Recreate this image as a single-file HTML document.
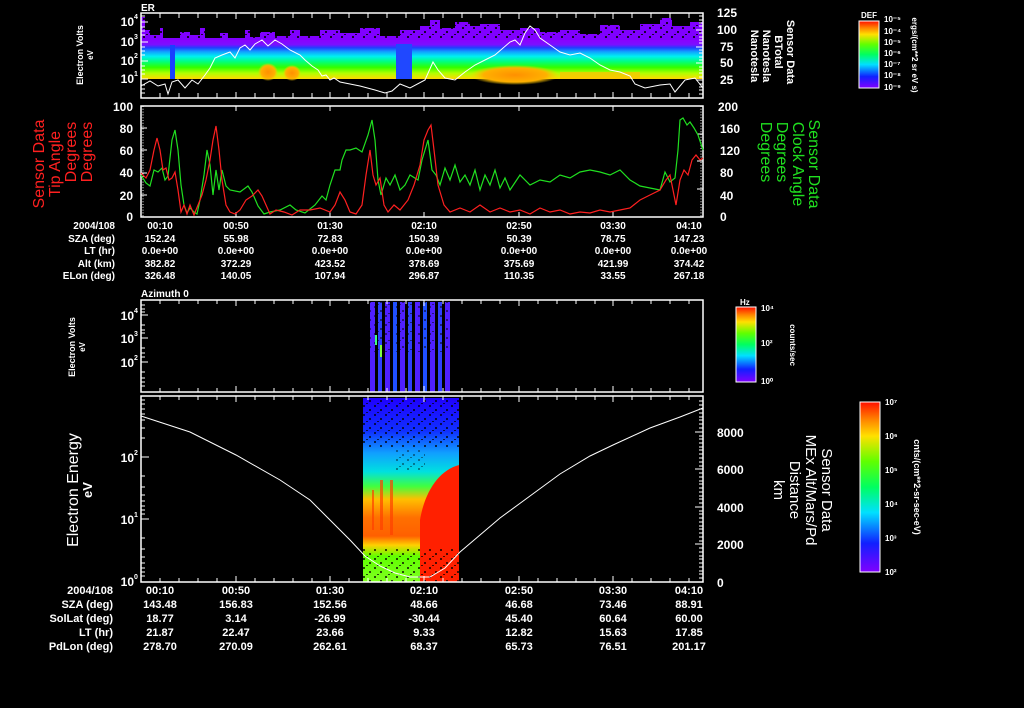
<!DOCTYPE html>
<html><head><meta charset="utf-8"><style>
html,body{margin:0;padding:0;background:#000;}
svg{display:block}
text{font-family:"Liberation Sans",sans-serif;fill:#fff;font-weight:bold}
.n text,text.n{font-weight:normal}
</style></head><body>
<svg width="1024" height="708" viewBox="0 0 1024 708" xmlns="http://www.w3.org/2000/svg">
<defs>
<linearGradient id="rb" x1="0" y1="1" x2="0" y2="0">
<stop offset="0" stop-color="#8000ff"/><stop offset="0.17" stop-color="#1020ff"/><stop offset="0.35" stop-color="#00e0ff"/><stop offset="0.5" stop-color="#00ff60"/><stop offset="0.65" stop-color="#60ff00"/><stop offset="0.8" stop-color="#ffe000"/><stop offset="0.9" stop-color="#ff8000"/><stop offset="1" stop-color="#ff1000"/>
</linearGradient>
<linearGradient id="s1" x1="0" y1="0" x2="0" y2="1">
<stop offset="0" stop-color="#8a00ff"/><stop offset="0.12" stop-color="#7a10ff"/><stop offset="0.2" stop-color="#2040ff"/><stop offset="0.3" stop-color="#10a0ff"/><stop offset="0.42" stop-color="#00f0f0"/><stop offset="0.55" stop-color="#00ff80"/><stop offset="0.7" stop-color="#30ff00"/><stop offset="0.85" stop-color="#b0ff00"/><stop offset="1" stop-color="#ffd800"/>
</linearGradient>
<linearGradient id="s4" x1="0" y1="0" x2="0" y2="1">
<stop offset="0" stop-color="#2000ff"/><stop offset="0.18" stop-color="#1030ff"/><stop offset="0.3" stop-color="#10a0ff"/><stop offset="0.4" stop-color="#00e0e0"/><stop offset="0.48" stop-color="#40ff40"/><stop offset="0.55" stop-color="#ffc000"/><stop offset="0.65" stop-color="#ff7000"/><stop offset="0.75" stop-color="#ff6000"/><stop offset="0.8" stop-color="#ffd000"/><stop offset="0.86" stop-color="#60ff00"/><stop offset="1" stop-color="#80ff20"/>
</linearGradient>
<radialGradient id="og"><stop offset="0" stop-color="#ff9000"/><stop offset="0.7" stop-color="#ffb000"/><stop offset="1" stop-color="#ffd000" stop-opacity="0"/></radialGradient>
<pattern id="spk" width="11" height="9" patternUnits="userSpaceOnUse"><rect x="0" y="0" width="2" height="2" fill="#000"/><rect x="6" y="4" width="2" height="2" fill="#000"/><rect x="3" y="7" width="2" height="1" fill="#000"/></pattern>
</defs>

<!-- ===== Panel 1 ===== -->
<text x="141" y="11" font-size="10">ER</text>
<rect x="141" y="40" width="562" height="39" fill="url(#s1)"/>
<path d="M141,40 V17 H145 V30 H150 V35 H160 V28 H163 V38 H180 V32 H190 V35 H200 V28 H205 V38 H220 V33 H228 V38 H245 V30 H250 V37 H260 V32 H275 V36 H290 V30 H300 V36 H320 V30 H340 V33 H360 V28 H380 V36 H400 V30 H420 V26 H430 V20 H440 V28 H455 V22 H470 V26 H480 V24 H500 V30 H520 V28 H540 V32 H560 V30 H580 V34 H600 V25 H620 V30 H640 V24 H660 V18 H672 V26 H690 V22 H703 V40 Z" fill="#8000ff"/>
<rect x="141" y="17" width="562" height="22" fill="url(#spk)" opacity="0.8"/>
<rect x="170" y="45" width="5" height="34" fill="#1840ff"/>
<rect x="396" y="44" width="16" height="35" fill="#2048ff"/>
<ellipse cx="268" cy="72" rx="10" ry="9" fill="url(#og)"/>
<ellipse cx="292" cy="73" rx="9" ry="8" fill="url(#og)"/>
<ellipse cx="515" cy="75" rx="45" ry="10" fill="url(#og)"/>
<rect x="560" y="72" width="80" height="7" fill="#ffc000" opacity="0.7"/>
<polyline fill="none" stroke="#fff" stroke-width="1" points="141,86 150,81 158,86 165,84 168,94 172,82 178,80 185,88 192,80 198,84 205,75 210,68 215,58 222,55 230,52 235,58 240,48 245,45 250,50 255,44 262,40 268,46 275,40 282,44 290,50 300,55 305,60 312,66 318,70 322,76 326,75 330,80 334,78 340,82 350,84 360,86 375,90 385,93 392,91 400,84 410,88 425,80 433,62 438,70 445,78 455,80 465,72 475,65 485,60 495,55 510,42 515,40 520,45 525,33 530,26 535,30 540,38 550,45 560,52 570,55 580,53 590,58 600,65 610,70 620,72 630,76 635,84 645,88 660,85 670,84 675,92 685,80 695,78 703,88"/>
<rect x="141" y="13" width="562" height="85" fill="none" stroke="#fff" stroke-width="1.5"/>
<g stroke="#fff" stroke-width="1">
<path d="M160,13v5M179,13v5M198,13v5M217,13v5M236,13v6M255,13v5M274,13v5M293,13v5M312,13v5M330,13v6M349,13v5M368,13v5M387,13v5M406,13v5M424,13v6M443,13v5M462,13v5M481,13v5M500,13v5M519,13v6M538,13v5M557,13v5M576,13v5M595,13v5M613,13v6M632,13v5M651,13v5M670,13v5M689,13v5"/>
<path d="M160,98v-5M179,98v-5M198,98v-5M217,98v-5M236,98v-6M255,98v-5M274,98v-5M293,98v-5M312,98v-5M330,98v-6M349,98v-5M368,98v-5M387,98v-5M406,98v-5M424,98v-6M443,98v-5M462,98v-5M481,98v-5M500,98v-5M519,98v-6M538,98v-5M557,98v-5M576,98v-5M595,98v-5M613,98v-6M632,98v-5M651,98v-5M670,98v-5M689,98v-5"/>
<path d="M141,22h7M141,42h7M141,61h7M141,79h7M141,16h4M141,27h4M141,31h4M141,35h4M141,47h4M141,51h4M141,55h4M141,66h4M141,70h4M141,74h4M141,85h4M141,89h4M141,93h4"/>
<path d="M703,30h-7M703,47h-7M703,63h-7M703,80h-7M703,16h-4M703,20h-4M703,23h-4M703,26h-4M703,33h-4M703,37h-4M703,40h-4M703,43h-4M703,50h-4M703,53h-4M703,57h-4M703,60h-4M703,67h-4M703,70h-4M703,73h-4M703,77h-4M703,84h-4M703,87h-4M703,90h-4M703,94h-4"/>
</g>
<g font-size="12" text-anchor="end"><text x="134" y="26">10</text><text x="134" y="46">10</text><text x="134" y="65">10</text><text x="134" y="83">10</text></g>
<g font-size="7"><text x="134" y="19">4</text><text x="134" y="39">3</text><text x="134" y="58">2</text><text x="134" y="76">1</text></g>
<g font-size="12"><text x="717" y="17">125</text><text x="717" y="34">100</text><text x="720" y="51">75</text><text x="720" y="67">50</text><text x="720" y="84">25</text></g>
<text transform="translate(83,55) rotate(-90)" font-size="9" text-anchor="middle">Electron Volts</text>
<text transform="translate(93,55) rotate(-90)" font-size="8" text-anchor="middle">eV</text>
<g font-size="11" text-anchor="middle">
<text transform="translate(787,52) rotate(90)">Sensor Data</text>
<text transform="translate(775,52) rotate(90)">BTotal</text>
<text transform="translate(763,56) rotate(90)">Nanotesla</text>
<text transform="translate(751,56) rotate(90)">Nanotesla</text>
</g>
<text x="861" y="18" font-size="8">DEF</text>
<rect x="859" y="21" width="20" height="67" fill="url(#rb)" stroke="#fff" stroke-width="1"/>
<g font-size="8"><text x="884" y="22">10⁻⁵</text><text x="884" y="34">10⁻⁴</text><text x="884" y="45">10⁻⁵</text><text x="884" y="56">10⁻⁶</text><text x="884" y="67">10⁻⁷</text><text x="884" y="78">10⁻⁸</text><text x="884" y="90">10⁻⁹</text></g>
<text transform="translate(912,55) rotate(90)" font-size="8" text-anchor="middle">ergs/(cm**2 sr eV s)</text>

<!-- ===== Panel 2 ===== -->
<rect x="141" y="106" width="562" height="111" fill="none" stroke="#fff" stroke-width="1.5"/>
<g stroke="#fff" stroke-width="1">
<path d="M141,106h6M141,128h6M141,150h6M141,173h6M141,195h6M703,106h-6M703,134h-6M703,161h-6M703,189h-6M703,217h-6"/>
<path d="M236,106v5M330,106v5M424,106v5M519,106v5M613,106v5M236,217v-5M330,217v-5M424,217v-5M519,217v-5M613,217v-5"/>
<path stroke-dasharray="1,1.8" d="M143,106v111M701,106v111"/>
</g>
<g font-size="12" text-anchor="end"><text x="133" y="111">100</text><text x="133" y="133">80</text><text x="133" y="155">60</text><text x="133" y="177">40</text><text x="133" y="200">20</text><text x="133" y="221">0</text></g>
<g font-size="12"><text x="718" y="111">200</text><text x="720" y="133">160</text><text x="720" y="155">120</text><text x="720" y="177">80</text><text x="720" y="200">40</text><text x="720" y="221">0</text></g>
<g class="n" font-size="16" text-anchor="middle">
<text transform="translate(44,164) rotate(-90)" style="fill:#ff2020">Sensor Data</text>
<text transform="translate(60,164) rotate(-90)" style="fill:#ff2020">Tip Angle</text>
<text transform="translate(76,152) rotate(-90)" style="fill:#ff2020">Degrees</text>
<text transform="translate(92,152) rotate(-90)" style="fill:#ff2020">Degrees</text>
</g>
<g class="n" font-size="16" text-anchor="middle">
<text transform="translate(809,164) rotate(90)" style="fill:#20e020">Sensor Data</text>
<text transform="translate(793,164) rotate(90)" style="fill:#20e020">Clock Angle</text>
<text transform="translate(777,152) rotate(90)" style="fill:#20e020">Degrees</text>
<text transform="translate(761,152) rotate(90)" style="fill:#20e020">Degrees</text>
</g>
<polyline fill="none" stroke="#20e020" stroke-width="1.2" points="141,175 146,183 150,186 154,170 158,172 162,168 165,180 168,176 172,140 175,130 178,150 181,185 184,205 187,213 190,208 194,212 197,214 200,200 204,175 207,150 210,165 213,195 216,170 219,190 222,170 226,186 230,190 240,192 248,186 252,192 258,206 264,214 270,212 280,210 290,205 296,210 305,213 315,205 322,196 326,200 330,185 335,170 340,170 342,160 346,150 350,150 356,148 362,152 368,135 372,120 375,140 378,180 381,195 386,178 390,185 395,175 400,190 405,185 410,175 418,180 422,160 428,140 432,170 436,175 440,185 445,168 450,180 455,165 460,182 465,175 470,185 475,170 480,190 485,175 490,185 495,170 500,188 505,178 510,190 520,175 530,185 540,180 550,182 560,175 570,178 580,172 590,170 600,172 610,175 620,170 630,180 640,186 650,188 660,190 665,172 670,182 675,178 678,150 680,120 683,118 687,125 690,122 694,128 698,135 703,150"/>
<polyline fill="none" stroke="#ff2020" stroke-width="1.2" points="141,173 146,178 150,170 154,150 157,138 160,150 163,170 166,168 169,180 172,178 175,172 178,190 181,212 184,205 187,214 190,205 194,215 198,205 202,195 206,180 210,160 213,140 216,126 219,150 222,180 226,205 230,212 235,214 240,210 246,200 252,196 258,190 262,196 266,205 270,214 276,210 284,212 292,215 300,210 310,210 320,208 330,212 335,205 340,192 345,200 350,212 356,214 362,205 366,175 370,150 373,175 376,185 380,178 384,205 388,212 394,205 400,210 408,200 414,185 420,165 424,140 428,130 431,125 434,150 438,185 444,205 450,212 460,208 470,212 480,205 490,212 500,208 510,212 520,210 530,214 540,208 550,212 560,210 570,214 580,212 590,213 600,210 610,212 620,210 630,208 640,200 650,195 660,190 666,180 670,175 674,195 676,205 680,180 684,170 688,175 692,160 696,155 700,160 703,158"/>
<g font-size="10" text-anchor="middle">
<text x="115" y="229" text-anchor="end">2004/108</text><text x="160" y="229">00:10</text><text x="236" y="229">00:50</text><text x="330" y="229">01:30</text><text x="424" y="229">02:10</text><text x="519" y="229">02:50</text><text x="613" y="229">03:30</text><text x="689" y="229">04:10</text>
<text x="115" y="242" text-anchor="end">SZA (deg)</text><text x="160" y="242">152.24</text><text x="236" y="242">55.98</text><text x="330" y="242">72.83</text><text x="424" y="242">150.39</text><text x="519" y="242">50.39</text><text x="613" y="242">78.75</text><text x="689" y="242">147.23</text>
<text x="115" y="254" text-anchor="end">LT (hr)</text><text x="160" y="254">0.0e+00</text><text x="236" y="254">0.0e+00</text><text x="330" y="254">0.0e+00</text><text x="424" y="254">0.0e+00</text><text x="519" y="254">0.0e+00</text><text x="613" y="254">0.0e+00</text><text x="689" y="254">0.0e+00</text>
<text x="115" y="267" text-anchor="end">Alt (km)</text><text x="160" y="267">382.82</text><text x="236" y="267">372.29</text><text x="330" y="267">423.52</text><text x="424" y="267">378.69</text><text x="519" y="267">375.69</text><text x="613" y="267">421.99</text><text x="689" y="267">374.42</text>
<text x="115" y="279" text-anchor="end">ELon (deg)</text><text x="160" y="279">326.48</text><text x="236" y="279">140.05</text><text x="330" y="279">107.94</text><text x="424" y="279">296.87</text><text x="519" y="279">110.35</text><text x="613" y="279">33.55</text><text x="689" y="279">267.18</text>
</g>

<!-- ===== Panel 3 ===== -->
<text x="141" y="297" font-size="10">Azimuth 0</text>
<g fill="#5020ff">
<rect x="370" y="302" width="5" height="90"/><rect x="378" y="302" width="4" height="90" fill="#3040ff"/><rect x="385" y="302" width="5" height="90"/><rect x="393" y="302" width="4" height="90" fill="#2050ff"/><rect x="400" y="302" width="5" height="90"/><rect x="408" y="302" width="4" height="90" fill="#3040ff"/><rect x="415" y="302" width="5" height="90"/><rect x="423" y="302" width="4" height="90" fill="#2050ff"/><rect x="430" y="302" width="5" height="90"/><rect x="438" y="302" width="4" height="90" fill="#3040ff"/><rect x="445" y="302" width="5" height="90"/>
</g>
<rect x="370" y="302" width="80" height="50" fill="url(#spk)" opacity="0.5"/>
<rect x="375" y="335" width="2" height="10" fill="#40ff80"/>
<rect x="380" y="345" width="2" height="12" fill="#80ff40"/>
<rect x="141" y="300" width="562" height="92" fill="none" stroke="#fff" stroke-width="1.5"/>
<g stroke="#fff" stroke-width="1">
<path d="M160,300v4M179,300v4M198,300v4M217,300v4M236,300v6M255,300v4M274,300v4M293,300v4M312,300v4M330,300v6M349,300v4M368,300v4M387,300v4M406,300v4M424,300v6M443,300v4M462,300v4M481,300v4M500,300v4M519,300v6M538,300v4M557,300v4M576,300v4M595,300v4M613,300v6M632,300v4M651,300v4M670,300v4M689,300v4"/>
<path d="M160,392v-4M179,392v-4M198,392v-4M217,392v-4M236,392v-6M255,392v-4M274,392v-4M293,392v-4M312,392v-4M330,392v-6M349,392v-4M368,392v-4M387,392v-4M406,392v-4M424,392v-6M443,392v-4M462,392v-4M481,392v-4M500,392v-4M519,392v-6M538,392v-4M557,392v-4M576,392v-4M595,392v-4M613,392v-6M632,392v-4M651,392v-4M670,392v-4M689,392v-4"/>
<path d="M141,315h7M141,338h7M141,362h7M141,305h4M141,309h4M141,312h4M141,325h4M141,330h4M141,333h4M141,348h4M141,353h4M141,357h4M141,372h4M141,378h4M141,382h4M141,386h4"/>
</g>
<g font-size="12" text-anchor="end"><text x="134" y="320">10</text><text x="134" y="343">10</text><text x="134" y="367">10</text></g>
<g font-size="7"><text x="134" y="313">4</text><text x="134" y="336">3</text><text x="134" y="360">2</text></g>
<text transform="translate(75,347) rotate(-90)" font-size="9" text-anchor="middle">Electron Volts</text>
<text transform="translate(85,347) rotate(-90)" font-size="8" text-anchor="middle">eV</text>
<text x="740" y="305" font-size="8">Hz</text>
<rect x="736" y="307" width="20" height="75" fill="url(#rb)" stroke="#fff" stroke-width="1"/>
<g font-size="8"><text x="761" y="311">10⁴</text><text x="761" y="346">10²</text><text x="761" y="384">10⁰</text></g>
<text transform="translate(790,345) rotate(90)" font-size="8" text-anchor="middle">counts/sec</text>

<!-- ===== Panel 4 ===== -->
<rect x="363" y="398" width="96" height="184" fill="url(#s4)"/>
<path d="M420,582 V520 C425,490 440,470 459,465 V582 Z" fill="#ff2000"/>
<path d="M380,480 h3 v50 h-3z M390,480 h3 v55 h-3z M372,490 h2 v40 h-2z" fill="#ff4000" opacity="0.7"/>
<rect x="363" y="398" width="96" height="50" fill="url(#spk)" opacity="0.7"/>
<rect x="363" y="548" width="96" height="34" fill="url(#spk)" opacity="0.7"/>
<rect x="395" y="450" width="30" height="20" fill="url(#spk)" opacity="0.4"/>
<polyline fill="none" stroke="#fff" stroke-width="1" points="141,416 190,432 236,455 280,480 310,500 330,520 350,540 365,556 380,566 395,573 410,577 430,577 445,568 460,552 480,535 500,518 530,496 560,474 590,456 613,445 650,428 680,417 703,408"/>
<rect x="141" y="396" width="562" height="186" fill="none" stroke="#fff" stroke-width="1.5"/>
<g stroke="#fff" stroke-width="1">
<path d="M160,396v4M179,396v4M198,396v4M217,396v4M236,396v6M255,396v4M274,396v4M293,396v4M312,396v4M330,396v6M349,396v4M368,396v4M387,396v4M406,396v4M424,396v6M443,396v4M462,396v4M481,396v4M500,396v4M519,396v6M538,396v4M557,396v4M576,396v4M595,396v4M613,396v6M632,396v4M651,396v4M670,396v4M689,396v4"/>
<path d="M160,582v-4M179,582v-4M198,582v-4M217,582v-4M236,582v-6M255,582v-4M274,582v-4M293,582v-4M312,582v-4M330,582v-6M349,582v-4M368,582v-4M387,582v-4M406,582v-4M424,582v-6M443,582v-4M462,582v-4M481,582v-4M500,582v-4M519,582v-6M538,582v-4M557,582v-4M576,582v-4M595,582v-4M613,582v-6M632,582v-4M651,582v-4M670,582v-4M689,582v-4"/>
<path d="M141,457h8M141,519h8M141,400h4M141,404h4M141,409h4M141,414h4M141,420h4M141,428h4M141,438h4M141,476h4M141,487h4M141,495h4M141,501h4M141,506h4M141,510h4M141,514h4M141,538h4M141,549h4M141,557h4M141,563h4M141,568h4M141,572h4M141,576h4"/>
<path d="M703,432h-8M703,469h-8M703,507h-8M703,544h-8M703,401h-4M703,405h-4M703,409h-4M703,413h-4M703,417h-4M703,420h-4M703,424h-4M703,428h-4M703,436h-4M703,439h-4M703,443h-4M703,447h-4M703,450h-4M703,454h-4M703,458h-4M703,462h-4M703,466h-4M703,473h-4M703,477h-4M703,481h-4M703,484h-4M703,488h-4M703,492h-4M703,496h-4M703,499h-4M703,503h-4M703,511h-4M703,514h-4M703,518h-4M703,522h-4M703,526h-4M703,529h-4M703,533h-4M703,537h-4M703,541h-4M703,548h-4M703,552h-4M703,556h-4M703,559h-4M703,563h-4M703,567h-4M703,571h-4M703,574h-4M703,578h-4"/>
</g>
<g font-size="12" text-anchor="end"><text x="134" y="462">10</text><text x="134" y="524">10</text><text x="134" y="586">10</text></g>
<g font-size="7"><text x="134" y="455">2</text><text x="134" y="517">1</text><text x="134" y="579">0</text></g>
<g font-size="12"><text x="717" y="437">8000</text><text x="717" y="474">6000</text><text x="717" y="512">4000</text><text x="717" y="549">2000</text><text x="717" y="587">0</text></g>
<text class="n" transform="translate(78,490) rotate(-90)" font-size="16" text-anchor="middle">Electron Energy</text>
<text transform="translate(92,490) rotate(-90)" font-size="13" text-anchor="middle">eV</text>
<g class="n" font-size="15" text-anchor="middle">
<text transform="translate(822,490) rotate(90)">Sensor Data</text>
<text transform="translate(806,490) rotate(90)">MEx Alt/Mars/Pd</text>
<text transform="translate(790,490) rotate(90)">Distance</text>
<text transform="translate(774,490) rotate(90)">km</text>
</g>
<rect x="860" y="402" width="20" height="170" fill="url(#rb)" stroke="#fff" stroke-width="1"/>
<g font-size="8"><text x="885" y="405">10⁷</text><text x="885" y="439">10⁶</text><text x="885" y="473">10⁵</text><text x="885" y="507">10⁴</text><text x="885" y="541">10³</text><text x="885" y="575">10²</text></g>
<text transform="translate(914,487) rotate(90)" font-size="9" text-anchor="middle">cnts/(cm**2-sr-sec-eV)</text>
<g font-size="11" text-anchor="middle">
<text x="113" y="594" text-anchor="end">2004/108</text><text x="160" y="594">00:10</text><text x="236" y="594">00:50</text><text x="330" y="594">01:30</text><text x="424" y="594">02:10</text><text x="519" y="594">02:50</text><text x="613" y="594">03:30</text><text x="689" y="594">04:10</text>
<text x="113" y="608" text-anchor="end">SZA (deg)</text><text x="160" y="608">143.48</text><text x="236" y="608">156.83</text><text x="330" y="608">152.56</text><text x="424" y="608">48.66</text><text x="519" y="608">46.68</text><text x="613" y="608">73.46</text><text x="689" y="608">88.91</text>
<text x="113" y="622" text-anchor="end">SolLat (deg)</text><text x="160" y="622">18.77</text><text x="236" y="622">3.14</text><text x="330" y="622">-26.99</text><text x="424" y="622">-30.44</text><text x="519" y="622">45.40</text><text x="613" y="622">60.64</text><text x="689" y="622">60.00</text>
<text x="113" y="636" text-anchor="end">LT (hr)</text><text x="160" y="636">21.87</text><text x="236" y="636">22.47</text><text x="330" y="636">23.66</text><text x="424" y="636">9.33</text><text x="519" y="636">12.82</text><text x="613" y="636">15.63</text><text x="689" y="636">17.85</text>
<text x="113" y="650" text-anchor="end">PdLon (deg)</text><text x="160" y="650">278.70</text><text x="236" y="650">270.09</text><text x="330" y="650">262.61</text><text x="424" y="650">68.37</text><text x="519" y="650">65.73</text><text x="613" y="650">76.51</text><text x="689" y="650">201.17</text>
</g>
</svg>
</body></html>
